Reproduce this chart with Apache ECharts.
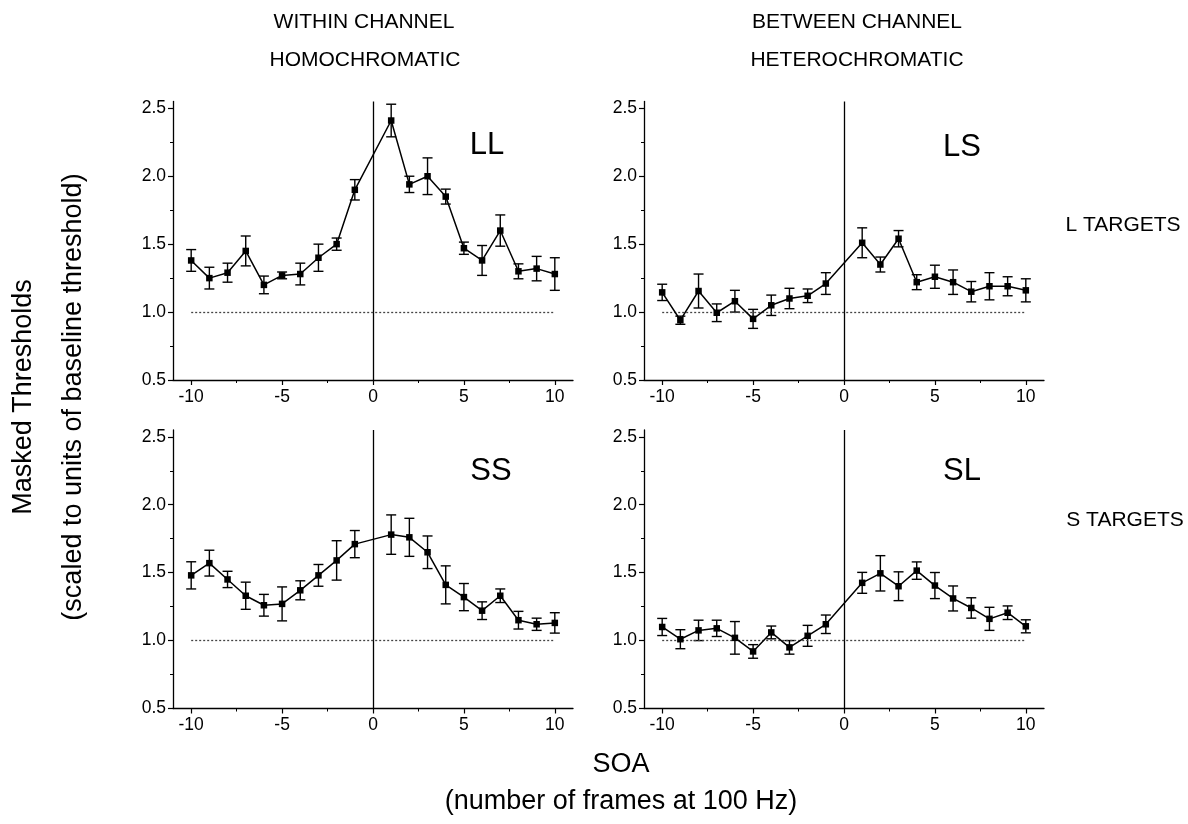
<!DOCTYPE html>
<html lang="en">
<head>
    <meta charset="UTF-8">
    <title>Masked thresholds vs SOA</title>
    <script type="text/javascript" src="https://cdn.jsdelivr.net/npm/echarts@6/dist/echarts.min.js"></script>
    <style>
        html, body { margin: 0; padding: 0; background: #fff; }
    </style>
</head>
<body>
    <div id="charts" style="width:1188px;height:824px;"></div>
<script type="text/javascript">
    // SOA in frames (no point at 0)
    var soa = [-10, -9, -8, -7, -6, -5, -4, -3, -2, -1, 1, 2, 3, 4, 5, 6, 7, 8, 9, 10];

    // LL: L targets, L masks
    var llMean = [1.38, 1.25, 1.29, 1.45, 1.20, 1.27, 1.28, 1.40, 1.50, 1.90, 2.41, 1.94, 2.00, 1.85, 1.47, 1.38, 1.60, 1.30, 1.32, 1.28];
    var llErr  = [0.08, 0.08, 0.07, 0.11, 0.065, 0.025, 0.08, 0.10, 0.045, 0.075, 0.12, 0.06, 0.135, 0.055, 0.045, 0.11, 0.115, 0.055, 0.09, 0.12];
    // LS
    var lsMean = [1.145, 0.94, 1.155, 0.995, 1.08, 0.95, 1.05, 1.10, 1.12, 1.21, 1.51, 1.35, 1.54, 1.22, 1.26, 1.22, 1.15, 1.19, 1.19, 1.16];
    var lsErr  = [0.06, 0.03, 0.125, 0.065, 0.08, 0.07, 0.075, 0.075, 0.05, 0.08, 0.11, 0.055, 0.06, 0.055, 0.085, 0.09, 0.075, 0.10, 0.07, 0.085];
    // SS
    var ssMean = [1.48, 1.57, 1.45, 1.33, 1.26, 1.27, 1.37, 1.48, 1.59, 1.71, 1.78, 1.76, 1.65, 1.41, 1.32, 1.22, 1.33, 1.15, 1.12, 1.13];
    var ssErr  = [0.10, 0.095, 0.06, 0.10, 0.08, 0.125, 0.07, 0.08, 0.145, 0.10, 0.145, 0.14, 0.12, 0.14, 0.10, 0.065, 0.05, 0.065, 0.045, 0.075];
    // SL
    var slMean = [1.10, 1.01, 1.075, 1.09, 1.02, 0.92, 1.06, 0.95, 1.035, 1.12, 1.425, 1.495, 1.40, 1.515, 1.405, 1.31, 1.24, 1.16, 1.205, 1.105];
    var slErr  = [0.063, 0.07, 0.075, 0.06, 0.12, 0.05, 0.047, 0.05, 0.077, 0.068, 0.077, 0.13, 0.106, 0.064, 0.096, 0.092, 0.075, 0.085, 0.05, 0.048];

    var xTicks = [-10, -5, 0, 5, 10];
    var xMinorTicks = [-7.5, -2.5, 2.5, 7.5];
    var yTicks = [0.5, 1.0, 1.5, 2.0, 2.5];
    var yMinorTicks = [0.75, 1.25, 1.75, 2.25];
    var baseline = 1.0;

    var FONT = 'Arial, "Liberation Sans", Helvetica, sans-serif';

    // panel name, means, errors, grid box
    var panels = [
        { name: 'LL', mean: llMean, err: llErr, left: 173, top: 101.5 },
        { name: 'LS', mean: lsMean, err: lsErr, left: 644, top: 101.5 },
        { name: 'SS', mean: ssMean, err: ssErr, left: 173, top: 430 },
        { name: 'SL', mean: slMean, err: slErr, left: 644, top: 430 }
    ];

    var myChart = echarts.init(document.getElementById('charts'), null, { renderer: 'canvas' });

    var grids = [], xAxes = [], yAxes = [], series = [];

    panels.forEach(function (p, i) {
        grids.push({ left: p.left, top: p.top, width: 400, height: 278.5 });

        // main axes
        xAxes.push({
            type: 'value', gridIndex: i, min: -11, max: 11,
            axisLine: { show: true, onZero: false, lineStyle: { color: '#000', width: 1.3 } },
            axisTick: { show: true, customValues: xTicks, length: 5, lineStyle: { color: '#000', width: 1.2 } },
            axisLabel: { customValues: xTicks, color: '#000', fontSize: 17.5, fontFamily: FONT, margin: 8 },
            splitLine: { show: false }
        });
        yAxes.push({
            type: 'value', gridIndex: i, min: 0.5, max: 2.55,
            axisLine: { show: true, onZero: false, lineStyle: { color: '#000', width: 1.3 } },
            axisTick: { show: true, customValues: yTicks, length: 5, lineStyle: { color: '#000', width: 1.2 } },
            axisLabel: {
                customValues: yTicks, color: '#000', fontSize: 17.5, fontFamily: FONT, margin: 7,
                formatter: function (v) { return v.toFixed(1); }
            },
            splitLine: { show: false }
        });
        // minor tick axes
        xAxes.push({
            type: 'value', gridIndex: i, min: -11, max: 11, position: 'bottom',
            axisLine: { show: false, onZero: false },
            axisTick: { show: true, customValues: xMinorTicks, length: 3, lineStyle: { color: '#000', width: 1 } },
            axisLabel: { show: false },
            splitLine: { show: false }
        });
        yAxes.push({
            type: 'value', gridIndex: i, min: 0.5, max: 2.55, position: 'left',
            axisLine: { show: false, onZero: false },
            axisTick: { show: true, customValues: yMinorTicks, length: 3, lineStyle: { color: '#000', width: 1 } },
            axisLabel: { show: false },
            splitLine: { show: false }
        });

        var xi = i * 2, yi = i * 2;

        series.push({
            type: 'line',
            xAxisIndex: xi, yAxisIndex: yi,
            data: soa.map(function (x, k) { return [x, p.mean[k]]; }),
            symbol: 'rect', symbolSize: 6.5,
            itemStyle: { color: '#000' },
            lineStyle: { color: '#000', width: 1.5 },
            z: 5,
            markLine: {
                silent: true, symbol: ['none', 'none'], label: { show: false },
                animation: false,
                data: [
                    { xAxis: 0, lineStyle: { color: '#000', width: 1.3, type: 'solid' } },
                    [
                        { coord: [soa[0], baseline], lineStyle: { color: '#444', width: 1.3, type: [2, 2] } },
                        { coord: [soa[soa.length - 1], baseline] }
                    ]
                ]
            }
        });

        series.push({
            type: 'custom',
            xAxisIndex: xi, yAxisIndex: yi,
            data: soa.map(function (x, k) { return [x, p.mean[k], p.err[k]]; }),
            encode: { x: 0, y: 1 },
            z: 4,
            renderItem: function (params, api) {
                var x = api.value(0), m = api.value(1), e = api.value(2);
                var hi = api.coord([x, m + e]);
                var lo = api.coord([x, m - e]);
                var cap = 5;
                var st = { stroke: '#000', lineWidth: 1.4 };
                return {
                    type: 'group',
                    children: [
                        { type: 'line', shape: { x1: hi[0], y1: hi[1], x2: lo[0], y2: lo[1] }, style: st },
                        { type: 'line', shape: { x1: hi[0] - cap, y1: hi[1], x2: hi[0] + cap, y2: hi[1] }, style: st },
                        { type: 'line', shape: { x1: lo[0] - cap, y1: lo[1], x2: lo[0] + cap, y2: lo[1] }, style: st }
                    ]
                };
            }
        });
    });

    function txt(s, x, y, size, rot) {
        return {
            type: 'text', x: x, y: y, rotation: rot || 0,
            style: { text: s, fill: '#000', font: size + 'px ' + FONT, align: 'center', verticalAlign: 'middle' }
        };
    }

    var option = {
        backgroundColor: '#fff',
        animation: false,
        grid: grids,
        xAxis: xAxes,
        yAxis: yAxes,
        series: series,
        graphic: [
            txt('WITHIN CHANNEL', 364, 22, 21),
            txt('HOMOCHROMATIC', 365, 60, 21),
            txt('BETWEEN CHANNEL', 857, 22, 21),
            txt('HETEROCHROMATIC', 857, 60, 21),
            txt('LL', 487, 145, 31),
            txt('LS', 962, 147, 31),
            txt('SS', 491, 471, 31),
            txt('SL', 962, 471, 31),
            txt('L TARGETS', 1123, 225, 21),
            txt('S TARGETS', 1125, 520, 21),
            txt('Masked Thresholds', 24, 397, 27, Math.PI / 2),
            txt('(scaled to units of baseline threshold)', 74, 397, 27, Math.PI / 2),
            txt('SOA', 621, 765, 27),
            txt('(number of frames at 100 Hz)', 621, 802, 27)
        ]
    };

    myChart.setOption(option);
</script>
</body>
</html>
